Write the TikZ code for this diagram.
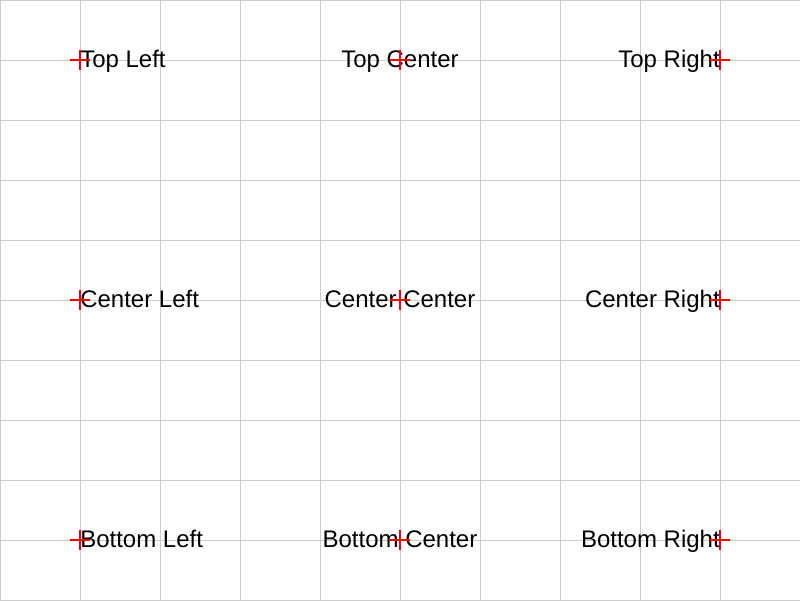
\documentclass[tikz,border=0pt]{standalone}
\usepackage{fontspec}
\setmainfont{Liberation Sans}
\begin{document}
\begin{tikzpicture}[
  x=2cm, y=1.5cm,
  gridline/.style={draw=black!20, line width=0.7pt},
  anchorlabel/.style={inner sep=0pt, font=\fontsize{17.07}{20}\selectfont, yshift=-0.19cm},
  crossmark/.style={draw=red, line width=1.4pt}
]
\useasboundingbox (0,0) rectangle (10,10);
\draw [gridline, xstep=2cm, ystep=1.5cm] (0,0) grid (10,10);

% anchor points
\coordinate (tl) at (1,9);
\coordinate (tc) at (5,9);
\coordinate (tr) at (9,9);
\coordinate (cl) at (1,5);
\coordinate (cc) at (5,5);
\coordinate (cr) at (9,5);
\coordinate (bl) at (1,1);
\coordinate (bc) at (5,1);
\coordinate (br) at (9,1);

\node [anchorlabel, anchor=base west] (topleft) at (tl) {Top Left};
\node [anchorlabel, anchor=base] (topcenter) at (tc) {Top Center};
\node [anchorlabel, anchor=base east] (topright) at (tr) {Top Right};
\node [anchorlabel, anchor=base west] (centerleft) at (cl) {Center Left};
\node [anchorlabel, anchor=base] (centercenter) at (cc) {Center Center};
\node [anchorlabel, anchor=base east] (centerright) at (cr) {Center Right};
\node [anchorlabel, anchor=base west] (bottomleft) at (bl) {Bottom Left};
\node [anchorlabel, anchor=base] (bottomcenter) at (bc) {Bottom Center};
\node [anchorlabel, anchor=base east] (bottomright) at (br) {Bottom Right};

% crosses on top of the labels
\foreach \p in {tl,tc,tr,cl,cc,cr,bl,bc,br} {
  \draw [crossmark] ([xshift=-0.25cm]\p) -- ([xshift=0.25cm]\p);
  \draw [crossmark] ([yshift=-0.25cm]\p) -- ([yshift=0.25cm]\p);
}
\end{tikzpicture}
\end{document}
